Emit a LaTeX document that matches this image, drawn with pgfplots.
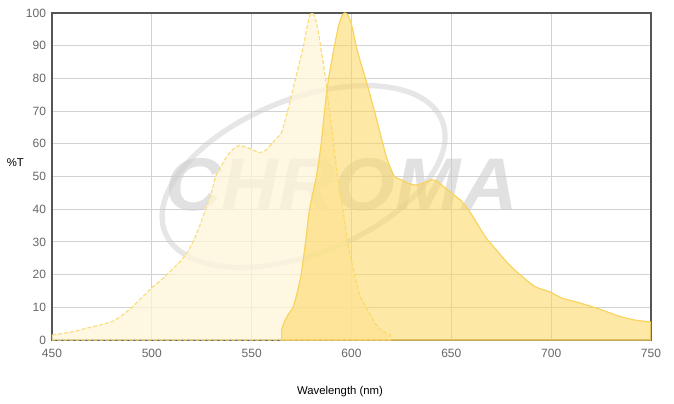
\documentclass[border=0pt]{standalone}
\usepackage{pgfplots}
\pgfplotsset{compat=1.18}
\usepackage{fontspec}
\setmainfont{Liberation Sans}
\setsansfont{Liberation Sans}
\definecolor{axisgray}{RGB}{85,85,85}
\definecolor{gridgray}{RGB}{210,210,210}
\definecolor{ticktext}{RGB}{102,102,102}
\definecolor{exline}{RGB}{250,222,125}
\definecolor{exfill}{RGB}{254,245,218}
\definecolor{emline}{RGB}{248,212,95}
\definecolor{emfill}{RGB}{253,214,92}
\definecolor{wm}{RGB}{205,205,205}
\begin{document}
\begin{tikzpicture}
\useasboundingbox (-39pt,-47.25pt) rectangle (466.5pt,255pt);
\begin{axis}[
  at={(0,0)}, anchor=south west,
  scale only axis, width=449.25pt, height=245.25pt,
  xmin=450, xmax=750, ymin=0, ymax=100,
  xtick={450,500,...,750}, ytick={0,10,...,100},
  grid=major, major grid style={gridgray, line width=0.75pt},
  axis line style={axisgray, line width=1.8pt},
  major tick length=0pt,
  tick label style={font=\fontsize{9}{10}\selectfont, text=ticktext},
  /pgf/number format/assume math mode=true,
  xticklabel style={yshift=-3pt},
  yticklabel style={xshift=-1pt},
  clip=true,
]
% watermark
\draw[wm, opacity=0.5, line width=4pt] (axis cs:576,50) ellipse [x radius=112pt, y radius=58pt, rotate=22];
\node[text=wm, opacity=0.6, font=\fontsize{56}{56}\selectfont\bfseries\itshape, anchor=center, xscale=1.05] at (axis cs:595,47.5) {CHROMA};
% excitation
\addplot[draw=exline, line width=0.9pt, dash pattern=on 3pt off 1.5pt, fill=exfill, fill opacity=0.75, smooth, tension=0.4] coordinates {
(450,1.5) (460,2.5) (470,4) (480,5.6) (485,7.5) (490,10) (495,13) (500,16) (505,18.5) (510,21.5) (515,24.5) (518,27) (521,30.5)
(524,35) (527,40) (530,45.5) (532,50) (535,53.5) (538,56.5) (541,58.5) (544,59.5) (547,59) (550,58.3) (554,57.3) (557,58) (560,60) (563,62) (565,63.5)
(568,70) (570,75) (572,80) (574,85) (576,90) (577.5,95) (579,99) (580,100) (581,99.5) (582.5,97) (584,92) (585,88) (587,80) (589,70) (591,60) (593,50)
(595.7,40) (598,30) (601.5,20) (604,14) (607.3,10) (612,5) (615,3) (618,2) (619.5,1.5)
} \closedcycle;
% emission
\addplot[draw=emline, line width=0.9pt, fill=emfill, fill opacity=0.55, smooth, tension=0.4] coordinates {
(565,3) (566,5) (568,7.5) (570.7,10) (573,15) (574.8,20) (577,30) (579,40) (582.4,50) (584.8,60) (586.5,70) (588.5,80) (591.5,90) (593.5,96) (595.3,99.3) (596.8,100)
(598.2,99.3) (599.5,97.5) (600.8,94.5) (602.3,90) (604.5,85) (607,80) (611.5,70) (615.7,60) (618,55) (621.5,50) (625,49) (628,48) (632,47.4) (636,48) (640,49) (643,48.5) (646,47) (650,45)
(655,42.5) (660,38.5) (667,31.6) (674,26.5) (679,23) (685.5,19.4) (692,16.3) (699,14.8) (705.5,12.8) (714,11.4) (724,9.5) (734,7.3) (742,6.1) (750,5.5)
} \closedcycle;
\end{axis}
\node[font=\fontsize{8.5}{10}\selectfont, text=black, anchor=center] at (-27.5pt,132.75pt) {\%T};
\node[font=\fontsize{8.5}{10}\selectfont, text=black, anchor=center] at (216pt,-39pt) {Wavelength (nm)};
\end{tikzpicture}
\end{document}
